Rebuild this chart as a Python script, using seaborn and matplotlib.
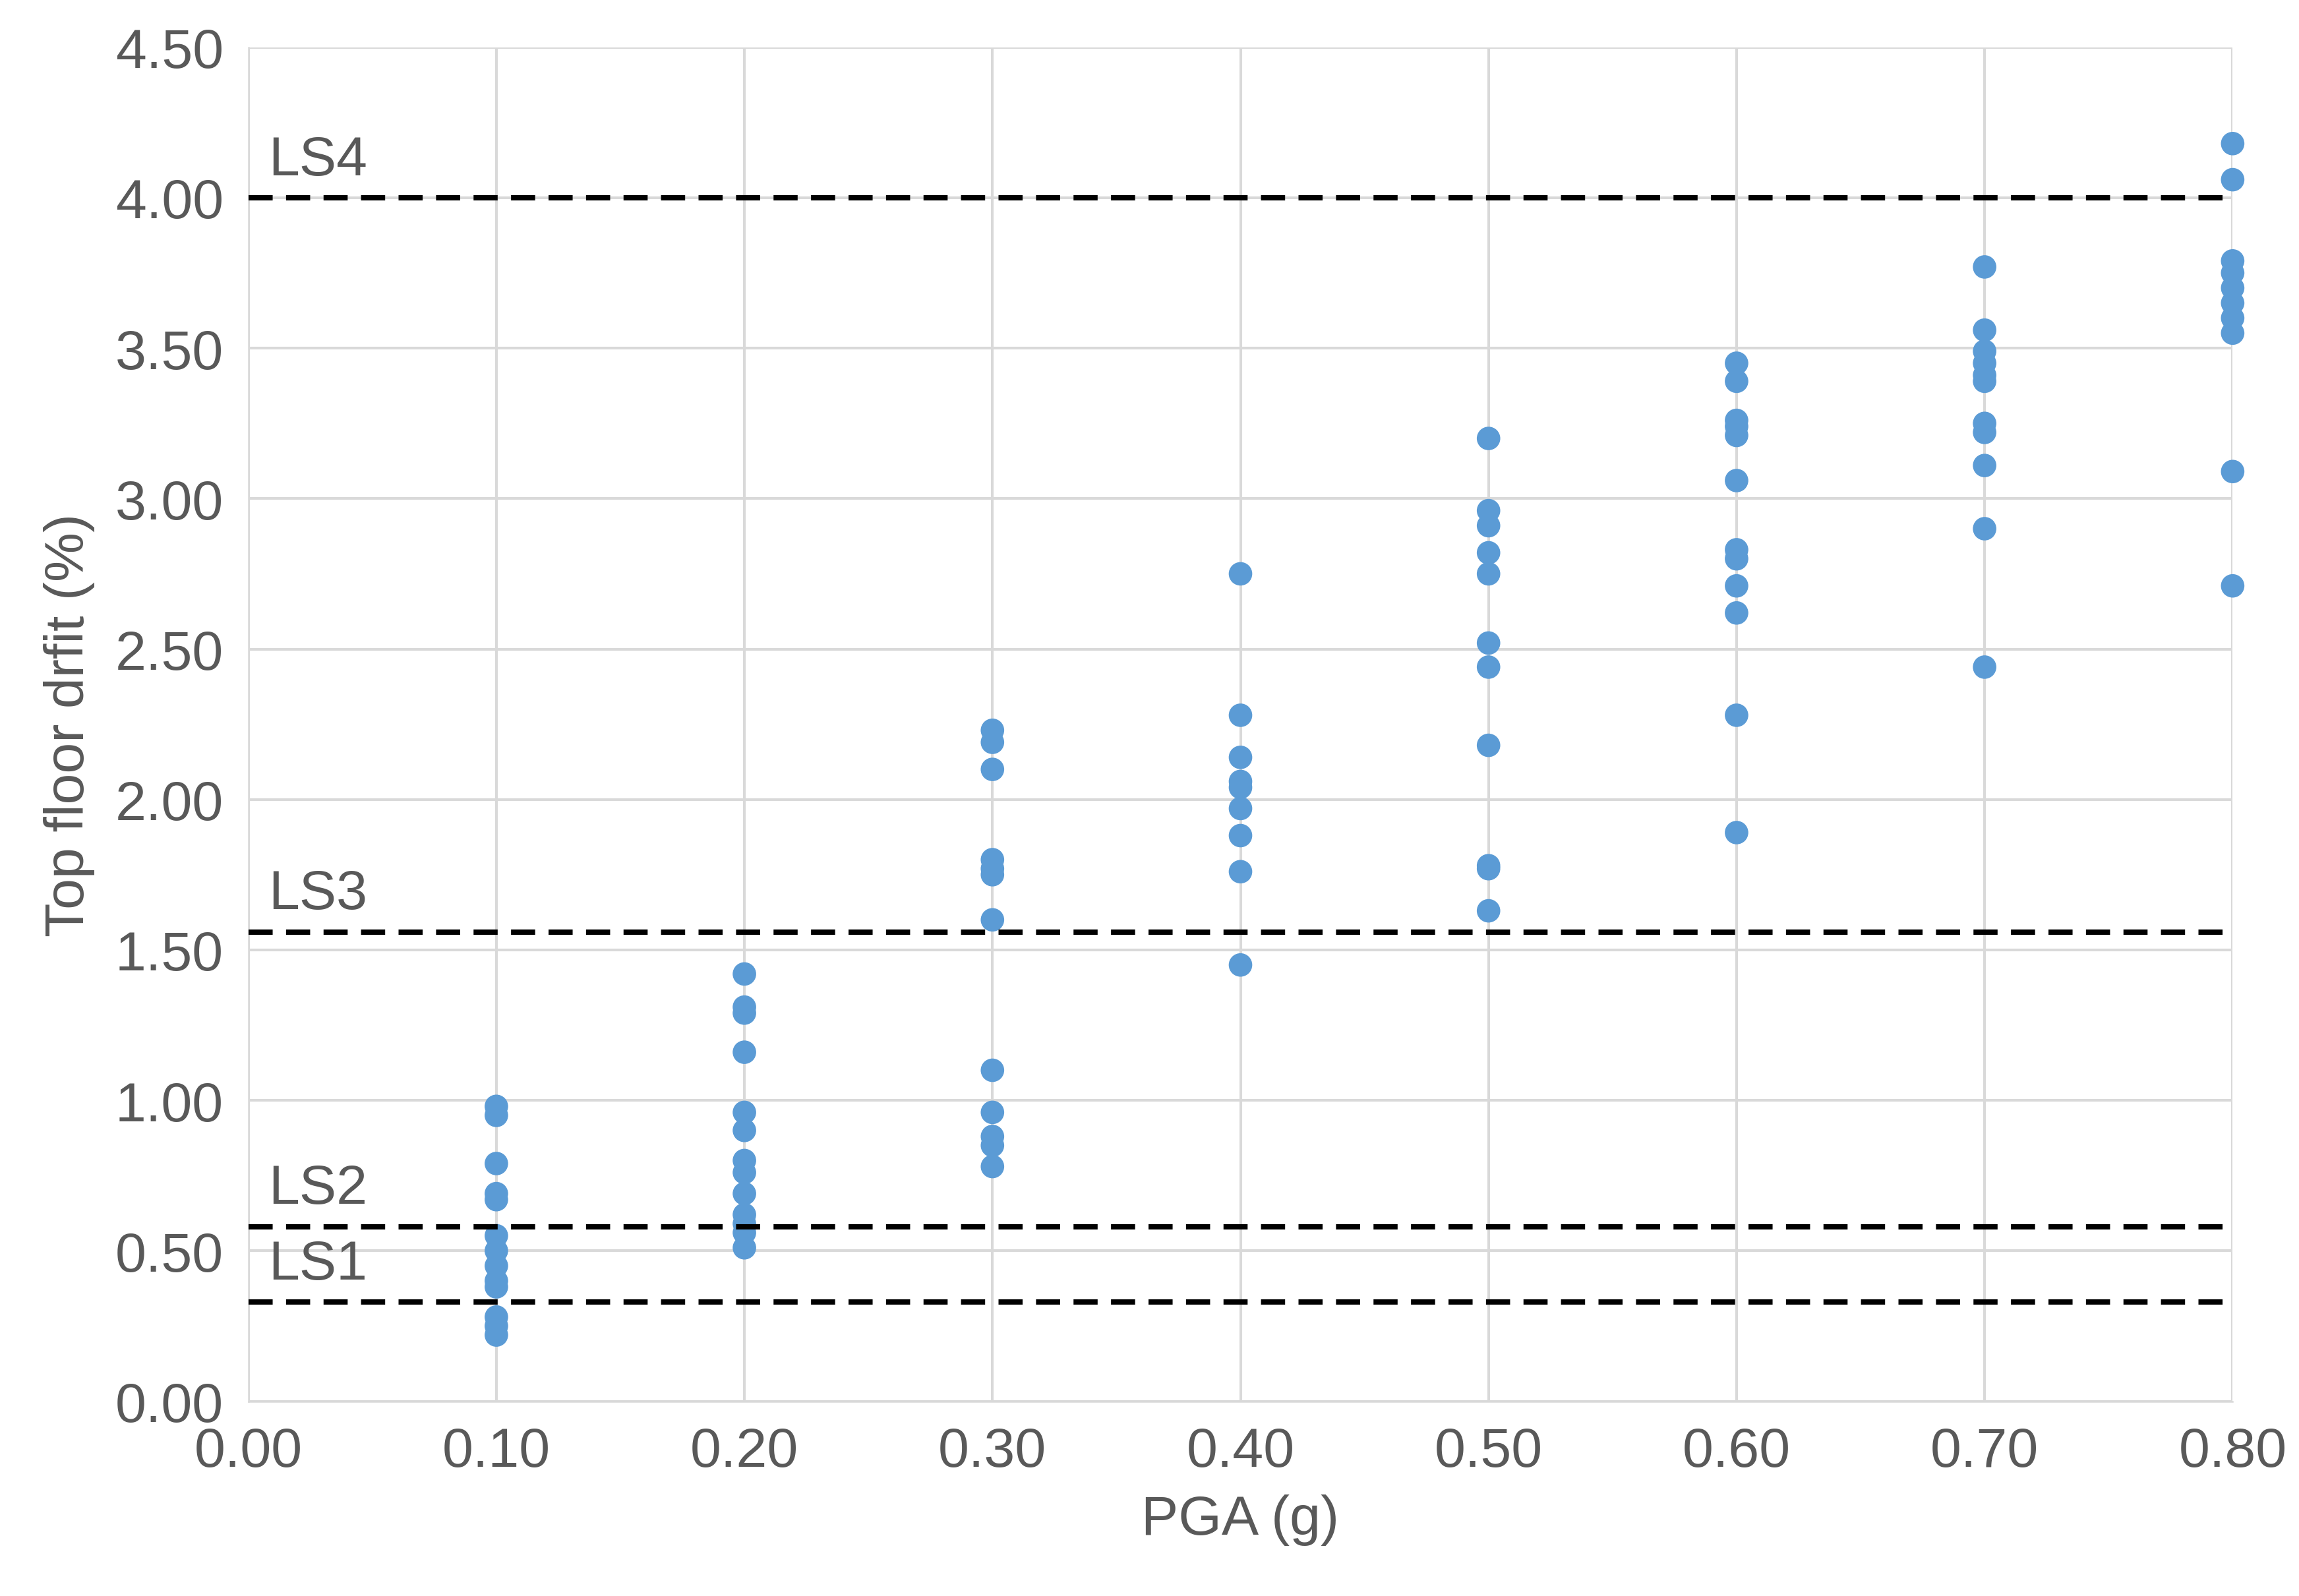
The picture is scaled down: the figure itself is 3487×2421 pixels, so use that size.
import numpy as np
import pandas as pd
import matplotlib
matplotlib.use("Agg")
import matplotlib.pyplot as plt
import seaborn as sns

# Top floor drift (%), per PGA level
drift_010 = [0.98, 0.95, 0.79, 0.69, 0.67, 0.55, 0.50, 0.45, 0.40, 0.38, 0.28, 0.25, 0.22]
drift_020 = [1.42, 1.31, 1.29, 1.16, 0.96, 0.90, 0.80, 0.76, 0.69, 0.62, 0.59, 0.56, 0.51]
drift_030 = [2.23, 2.19, 2.10, 1.80, 1.77, 1.75, 1.60, 1.10, 0.96, 0.88, 0.85, 0.78]
drift_040 = [2.75, 2.28, 2.14, 2.06, 2.04, 1.97, 1.88, 1.76, 1.45]
drift_050 = [3.20, 2.96, 2.91, 2.82, 2.75, 2.52, 2.44, 2.18, 1.78, 1.77, 1.63]
drift_060 = [3.45, 3.39, 3.26, 3.24, 3.21, 3.06, 2.83, 2.80, 2.71, 2.62, 2.28, 1.89]
drift_070 = [3.77, 3.56, 3.49, 3.45, 3.41, 3.39, 3.25, 3.22, 3.11, 2.90, 2.44]
drift_080 = [4.18, 4.06, 3.79, 3.75, 3.70, 3.65, 3.60, 3.55, 3.09, 2.71]
pga_levels = [0.10, 0.20, 0.30, 0.40, 0.50, 0.60, 0.70, 0.80]

limit_names = ["LS1", "LS2", "LS3", "LS4"]
limit_values = [0.33, 0.58, 1.56, 4.00]

groups = [drift_010, drift_020, drift_030, drift_040, drift_050, drift_060, drift_070, drift_080]
df = pd.DataFrame({
    "pga": np.concatenate([[p] * len(g) for p, g in zip(pga_levels, groups)]),
    "drift": np.concatenate(groups),
})

sns.set_style("white")
plt.rcParams["font.family"] = ["Liberation Sans", "DejaVu Sans"]
grey = "#595959"
fs = 27

fig, ax = plt.subplots(figsize=(15.5, 10.764), dpi=225)
fig.subplots_adjust(left=0.108, right=0.971, top=0.97, bottom=0.122)

sns.scatterplot(data=df, x="pga", y="drift", ax=ax, color="#5b9bd5",
                s=130, edgecolor="none", zorder=3, clip_on=False)

for name, val in zip(limit_names, limit_values):
    ax.axhline(val, color="black", linestyle=(0, (4.5, 2.5)), linewidth=2.6, zorder=4)
    ax.text(0.008, val + 0.04, name, fontsize=fs, color=grey, va="bottom")

ax.set_xlim(0, 0.8)
ax.set_ylim(0, 4.5)
ax.set_xticks(np.arange(0, 0.81, 0.1))
ax.set_yticks(np.arange(0, 4.51, 0.5))
ax.xaxis.set_major_formatter(matplotlib.ticker.FormatStrFormatter("%.2f"))
ax.yaxis.set_major_formatter(matplotlib.ticker.FormatStrFormatter("%.2f"))
ax.grid(True, color="#d9d9d9", linewidth=1.3, zorder=0)
ax.set_axisbelow(True)
for side in ["top", "right"]:
    ax.spines[side].set_visible(False)
ax.spines["left"].set_color("#d9d9d9")
ax.spines["bottom"].set_color("#d9d9d9")
ax.tick_params(labelsize=fs, colors=grey, length=0, pad=12)
ax.set_xlabel("PGA (g)", fontsize=fs, color=grey, labelpad=8)
ax.set_ylabel("Top floor drfit (%)", fontsize=fs, color=grey, labelpad=10)

plt.savefig("out.png", dpi=225)
plt.close()
